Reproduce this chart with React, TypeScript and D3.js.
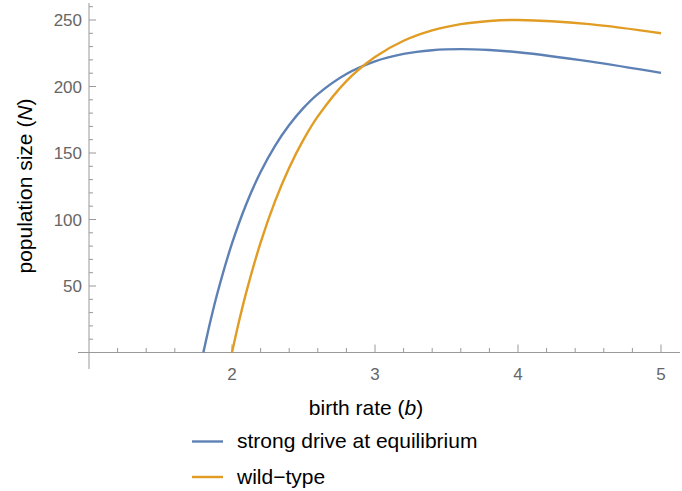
import React from "react";
import * as d3 from "d3";

// birth rate (b) vs population size (N)
const driveB = [1.8, 1.85, 1.9, 2.0, 2.1, 2.2, 2.3, 2.4, 2.5, 2.6, 2.8, 3.0, 3.2, 3.4, 3.6, 3.8, 4.0, 4.5, 5.0];
const driveN = [0, 24, 45.5, 82, 111.7, 135.7, 155.2, 171, 183.9, 194.3, 209.4, 218.9, 224.5, 227.3, 228.1, 227.4, 225.8, 218.9, 210.2];

const wildB = [2.0, 2.05, 2.1, 2.2, 2.3, 2.4, 2.5, 2.6, 2.8, 3.0, 3.2, 3.4, 3.6, 3.8, 4.0, 4.5, 5.0];
const wildN = [0, 23.8, 45.4, 82.6, 113.4, 138.9, 160, 177.5, 204.1, 222.2, 234.4, 242.2, 246.9, 249.3, 250, 246.9, 240];

const xTicks = [2, 3, 4, 5];
const yTicks = [50, 100, 150, 200, 250];
const seriesNames = ["strong drive at equilibrium", "wild\u2212type"];
const seriesColors = ["#5E81B5", "#E19C24"];

const font = "'Liberation Sans', Arial, sans-serif";

const App = () => {
  const width = 682;
  const height = 491;

  const x = d3.scaleLinear().domain([1, 5]).range([89, 661]);
  const y = d3.scaleLinear().domain([0, 250]).range([352.5, 20]);

  const line = d3
    .line<[number, number]>()
    .x((d) => x(d[0]))
    .y((d) => y(d[1]))
    .curve(d3.curveCatmullRom.alpha(0.5));

  const drivePts: [number, number][] = driveB.map((b, i) => [b, driveN[i]]);
  const wildPts: [number, number][] = wildB.map((b, i) => [b, wildN[i]]);

  const xMinor = d3.range(1.2, 5.01, 0.2).filter((v) => Math.abs(v - Math.round(v)) > 0.01);
  const yMinor = d3.range(10, 261, 10).filter((v) => v % 50 !== 0);

  const axisColor = "#999999";
  const labelColor = "#666666";

  return (
    <svg width={width} height={height} style={{ position: "absolute", left: 0, top: 0 }}>
      <rect width={width} height={height} fill="white" />

      {/* axes */}
      <line x1={78} x2={680} y1={y(0)} y2={y(0)} stroke={axisColor} strokeWidth={1} />
      <line x1={x(1)} x2={x(1)} y1={3} y2={369} stroke={axisColor} strokeWidth={1} />

      {/* x ticks */}
      {xTicks.map((t) => (
        <g key={"xt" + t}>
          <line x1={x(t)} x2={x(t)} y1={y(0)} y2={y(0) - 8} stroke={axisColor} />
          <text x={x(t)} y={380} textAnchor="middle" fontFamily={font} fontSize={17} fill={labelColor}>
            {t}
          </text>
        </g>
      ))}
      {xMinor.map((t) => (
        <line key={"xm" + t} x1={x(t)} x2={x(t)} y1={y(0)} y2={y(0) - 4.5} stroke={axisColor} />
      ))}

      {/* y ticks */}
      {yTicks.map((t) => (
        <g key={"yt" + t}>
          <line x1={x(1)} x2={x(1) + 7} y1={y(t)} y2={y(t)} stroke={axisColor} />
          <text x={82} y={y(t) + 6} textAnchor="end" fontFamily={font} fontSize={17} fill={labelColor}>
            {t}
          </text>
        </g>
      ))}
      {yMinor.map((t) => (
        <line key={"ym" + t} x1={x(1)} x2={x(1) + 4} y1={y(t)} y2={y(t)} stroke={axisColor} />
      ))}

      {/* curves */}
      <path d={line(drivePts) || ""} fill="none" stroke={seriesColors[0]} strokeWidth={2.4} />
      <path d={line(wildPts) || ""} fill="none" stroke={seriesColors[1]} strokeWidth={2.4} />

      {/* axis labels */}
      <text x={366} y={415} textAnchor="middle" fontFamily={font} fontSize={21} fill="#000">
        birth rate (<tspan fontStyle="italic">b</tspan>)
      </text>
      <text
        transform="translate(32,186) rotate(-90)"
        textAnchor="middle"
        fontFamily={font}
        fontSize={21}
        fill="#000"
      >
        population size (<tspan fontStyle="italic">N</tspan>)
      </text>

      {/* legend */}
      {seriesNames.map((name, i) => (
        <g key={name} transform={`translate(0,${i * 35.5})`}>
          <line x1={192} x2={223} y1={441.5} y2={441.5} stroke={seriesColors[i]} strokeWidth={2.4} />
          <text x={237} y={448} fontFamily={font} fontSize={21} fill="#000">
            {name}
          </text>
        </g>
      ))}
    </svg>
  );
};

export default App;
